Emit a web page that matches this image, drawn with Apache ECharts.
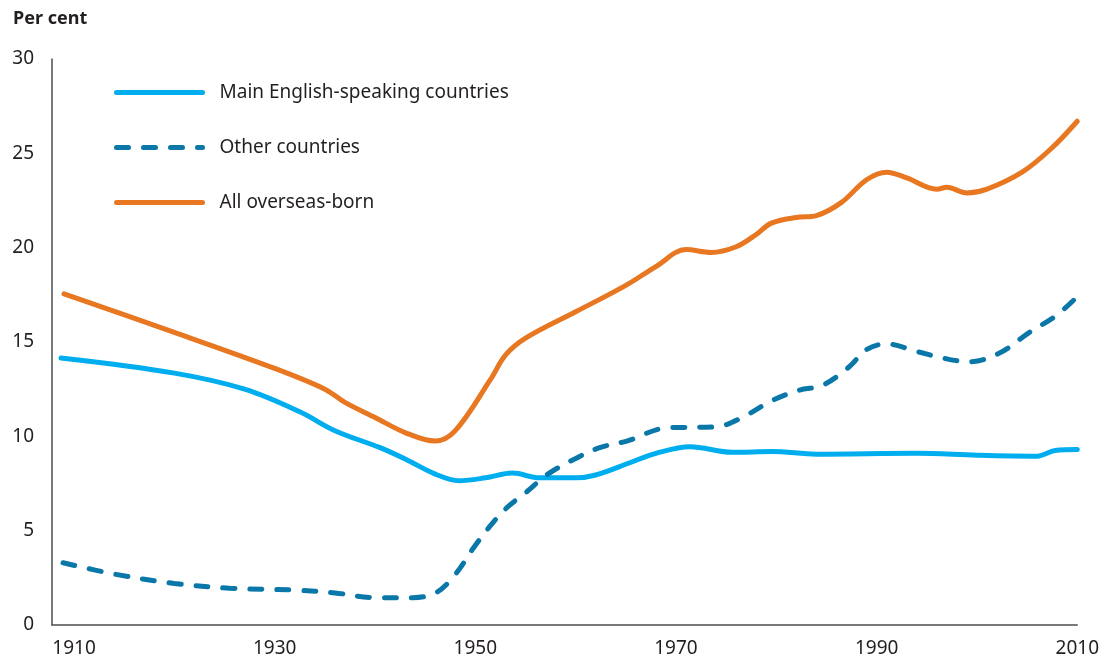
<!DOCTYPE html>
<html>
<head>
<meta charset="utf-8">
<script src="https://cdn.jsdelivr.net/npm/echarts@6/dist/echarts.min.js"></script>
<style>
  html, body { margin: 0; padding: 0; background: #fff; }
  #chart { width: 1102px; height: 659px; }
</style>
</head>
<body>
<div id="chart"></div>
<script>
// year / per cent
const mainYears = [1908.7, 1920, 1927, 1932.5, 1936, 1940.5, 1943, 1946, 1948.4, 1951, 1953.7, 1956.4, 1960, 1962, 1965.4, 1968, 1971.4, 1975.6, 1979.6, 1984, 1994, 2000, 2006, 2007.8, 2010];
const mainValues = [14.15, 13.35, 12.5, 11.3, 10.3, 9.4, 8.8, 8.0, 7.65, 7.8, 8.05, 7.8, 7.8, 7.95, 8.6, 9.1, 9.45, 9.15, 9.2, 9.05, 9.1, 9.0, 8.95, 9.25, 9.3];

const otherYears = [1908.9, 1914, 1920, 1925.5, 1932, 1936, 1940, 1943.8, 1946.2, 1948.1, 1949.7, 1951.4, 1953.1, 1955.1, 1957.1, 1959.7, 1962.4, 1965.1, 1969.1, 1974, 1976.6, 1979.6, 1982.3, 1984.6, 1987.3, 1989, 1991, 1994, 1996.6, 1999.2, 2002.2, 2005.2, 2007.9, 2010];
const otherValues = [3.3, 2.7, 2.2, 1.95, 1.85, 1.7, 1.45, 1.45, 1.75, 2.75, 4.0, 5.2, 6.2, 7.05, 7.95, 8.75, 9.4, 9.75, 10.45, 10.5, 11.0, 11.9, 12.45, 12.7, 13.7, 14.6, 14.9, 14.5, 14.15, 13.95, 14.4, 15.5, 16.4, 17.4];

const allYears = [1909, 1919.5, 1930, 1935, 1937, 1940, 1943, 1946, 1948, 1951.5, 1953, 1955, 1960, 1965, 1968, 1971, 1973.5, 1976, 1978, 1979.5, 1982, 1984, 1986.5, 1989, 1991, 1993, 1996, 1997, 1999, 2001, 2004.5, 2007.5, 2010];
const allValues = [17.55, 15.6, 13.6, 12.5, 11.8, 11.0, 10.2, 9.75, 10.3, 13.0, 14.3, 15.2, 16.6, 18.0, 19.0, 19.9, 19.75, 20.05, 20.7, 21.3, 21.6, 21.7, 22.4, 23.6, 24.0, 23.7, 23.1, 23.2, 22.9, 23.1, 24.0, 25.3, 26.7];

const xTicks = [1910, 1930, 1950, 1970, 1990, 2010];
const seriesNames = ['Main English-speaking countries', 'Other countries', 'All overseas-born'];

const zip = (xs, ys) => xs.map((x, i) => [x, ys[i]]);

const font = 'Noto Sans';
const ink = '#231f20';

var myChart = echarts.init(document.getElementById('chart'));
myChart.setOption({
    animation: false,
    title: {
        text: 'Per cent',
        left: 8,
        top: 5,
        textStyle: { fontFamily: font, fontSize: 18, fontWeight: 'bold', color: ink }
    },
    grid: { left: 52, right: 24, top: 59, bottom: 34, containLabel: false },
    legend: {
        orient: 'vertical',
        left: 109,
        top: 78,
        itemWidth: 86,
        itemHeight: 22,
        itemGap: 36,
        itemStyle: { opacity: 0 },
        lineStyle: { width: 5, cap: 'round' },
        textStyle: { fontFamily: font, fontSize: 19, color: ink, padding: [0, 0, 4, 12] },
        data: seriesNames
    },
    xAxis: {
        type: 'value',
        min: 1907.8,
        max: 2010,
        axisLine: { lineStyle: { color: '#4d4d4d', width: 1.5 } },
        axisTick: { show: false },
        splitLine: { show: false },
        axisLabel: {
            customValues: xTicks,
            formatter: v => String(v),
            margin: 14,
            fontFamily: font, fontSize: 19, color: ink
        }
    },
    yAxis: {
        type: 'value',
        min: 0,
        max: 30,
        interval: 5,
        axisLine: { show: true, lineStyle: { color: '#4d4d4d', width: 1.5 } },
        axisTick: { show: false },
        splitLine: { show: false },
        axisLabel: { margin: 18, fontFamily: font, fontSize: 19, color: ink }
    },
    series: [
        {
            name: seriesNames[0],
            type: 'line',
            data: zip(mainYears, mainValues),
            smooth: 0.35,
            symbol: 'none',
            lineStyle: { color: '#00aeef', width: 5, cap: 'round' },
            itemStyle: { color: '#00aeef' }
        },
        {
            name: seriesNames[1],
            type: 'line',
            data: zip(otherYears, otherValues),
            smooth: 0.35,
            symbol: 'none',
            lineStyle: { color: '#0a77a9', width: 5, type: [12, 15], cap: 'round' },
            itemStyle: { color: '#0a77a9' }
        },
        {
            name: seriesNames[2],
            type: 'line',
            data: zip(allYears, allValues),
            smooth: 0.35,
            symbol: 'none',
            lineStyle: { color: '#e87722', width: 5, cap: 'round' },
            itemStyle: { color: '#e87722' }
        }
    ]
});
</script>
</body>
</html>
